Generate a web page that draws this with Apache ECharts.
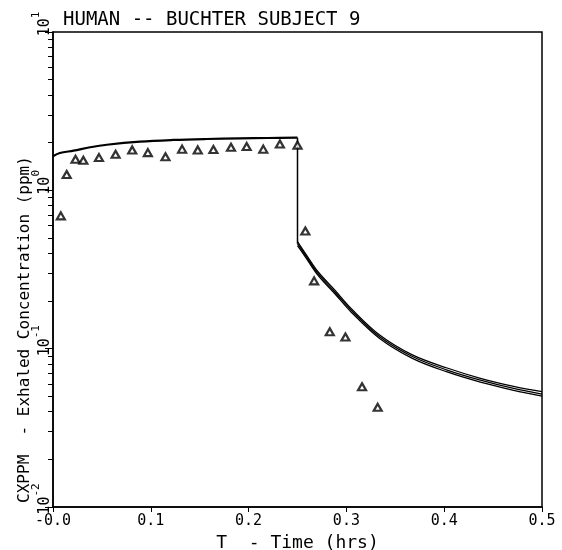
<!DOCTYPE html>
<html>
<head>
<meta charset="utf-8">
<script src="https://cdn.jsdelivr.net/npm/echarts@6/dist/echarts.min.js"></script>
<style>
  html, body { margin: 0; padding: 0; background: #fff; }
  #chart { width: 562px; height: 550px; }
</style>
</head>
<body>
<div id="chart"></div>
<script>
// Exhaled concentration (ppm) vs time (hrs): measured points and model curves
const titleText = 'HUMAN -- BUCHTER SUBJECT 9';
const xName = 'T  - Time (hrs)';
const yName = 'CXPPM  - Exhaled Concentration (ppm)';

const xTicks = [0, 0.1, 0.2, 0.3, 0.4, 0.5];
const yMajor = [0.01, 0.1, 1, 10];
const yMinor = [0.02, 0.03, 0.04, 0.05, 0.06, 0.07, 0.08, 0.09,
                0.2, 0.3, 0.4, 0.5, 0.6, 0.7, 0.8, 0.9,
                2, 3, 4, 5, 6, 7, 8, 9];

// measured exhaled concentrations
const obsTime = [0.008, 0.014, 0.023, 0.031, 0.047, 0.064, 0.081, 0.097, 0.115, 0.132,
                 0.148, 0.164, 0.182, 0.198, 0.215, 0.232, 0.250, 0.258, 0.267, 0.283,
                 0.299, 0.316, 0.332];
const obsConc = [0.69, 1.26, 1.57, 1.55, 1.61, 1.69, 1.80, 1.73, 1.63, 1.82,
                 1.80, 1.81, 1.87, 1.89, 1.82, 1.96, 1.93, 0.553, 0.268, 0.128,
                 0.1185, 0.0575, 0.0426];

// model: exposure phase (all curves coincide)
const expoTime = [0, 0.007, 0.021, 0.038, 0.055, 0.089, 0.123, 0.157, 0.191, 0.22, 0.25];
const expoConc = [1.64, 1.72, 1.78, 1.87, 1.94, 2.03, 2.08, 2.11, 2.13, 2.14, 2.15];

// end of exposure step
const stepTime = [0.25, 0.25];
const stepConc = [2.15, 0.46];

// model: post-exposure decay, three variants
const decayTime  = [0.25, 0.258, 0.271, 0.288, 0.305, 0.334, 0.368, 0.403, 0.437, 0.471, 0.50];
const decayHigh  = [0.475, 0.40, 0.306, 0.235, 0.179, 0.122, 0.091, 0.0755, 0.065, 0.0578, 0.0535];
const decayMid   = [0.46, 0.39, 0.298, 0.229, 0.175, 0.119, 0.0889, 0.0733, 0.0633, 0.0561, 0.0517];
const decayLow   = [0.448, 0.38, 0.29, 0.223, 0.17, 0.116, 0.0865, 0.0713, 0.0615, 0.0546, 0.0502];

const pairs = (xs, ys) => xs.map((x, i) => [x, ys[i]]);
const MONO = 'DejaVu Sans Mono';
const INK = '#000';

const chart = echarts.init(document.getElementById('chart'), null, { renderer: 'canvas' });

function modelLine(data, smooth, width) {
  return {
    type: 'line', data, symbol: 'none', smooth,
    lineStyle: { color: INK, width: width || 1.3 },
    silent: true, animation: false, z: 3
  };
}

chart.setOption({
  animation: false,
  backgroundColor: '#fff',
  title: {
    text: titleText, left: 58, top: 6,
    textStyle: { fontFamily: MONO, fontSize: 19, fontWeight: 'normal', color: INK }
  },
  grid: {
    left: 53, right: 20, top: 32, bottom: 43,
    outerBoundsMode: 'none', containLabel: false,
    show: true, borderColor: INK, borderWidth: 1.5, backgroundColor: 'transparent'
  },
  xAxis: [{
    type: 'value', min: 0, max: 0.5, interval: 0.1,
    name: xName, nameLocation: 'middle', nameGap: 27, nameMoveOverlap: false,
    nameTextStyle: { fontFamily: MONO, fontSize: 18, color: INK },
    axisLine: { show: true, lineStyle: { color: INK, width: 1.5 } },
    axisTick: { show: true, length: 5, lineStyle: { color: INK } },
    axisLabel: {
      fontFamily: MONO, fontSize: 15, color: INK, margin: 7,
      customValues: xTicks,
      formatter: v => (v === 0 ? '-0.0' : v.toFixed(1))
    },
    splitLine: { show: false }
  }],
  yAxis: [{
    type: 'log', logBase: 10, min: 0.01, max: 10, position: 'left',
    name: yName, nameLocation: 'middle', nameGap: 20, nameRotate: 90, nameMoveOverlap: false,
    nameTextStyle: { fontFamily: MONO, fontSize: 16, color: INK, padding: [0, 120, 0, 0] },
    axisLine: { show: true, lineStyle: { color: INK, width: 1.5 } },
    axisTick: { show: true, length: 8, customValues: yMajor, lineStyle: { color: INK } },
    axisLabel: {
      show: true, rotate: 90, margin: 0,
      customValues: yMajor,
      padding: [0, 0, 0, 16],
      formatter: v => '{b|10}{e|' + Math.round(Math.log10(v)) + '}',
      rich: {
        b: { fontFamily: MONO, fontSize: 15, color: INK, lineHeight: 22, verticalAlign: 'bottom' },
        e: { fontFamily: MONO, fontSize: 11, color: INK, lineHeight: 22, verticalAlign: 'top' }
      }
    },
    splitLine: { show: false }
  }, {
    // minor log ticks drawn along the left edge
    type: 'log', logBase: 10, min: 0.01, max: 10, position: 'right', offset: -489,
    axisLine: { show: false },
    axisTick: { show: true, inside: true, length: 5, customValues: yMinor, lineStyle: { color: INK } },
    axisLabel: { show: false },
    splitLine: { show: false }
  }],
  series: [
    modelLine(pairs(expoTime, expoConc), 0.35, 2.2),
    modelLine(pairs(stepTime, stepConc), false, 1.5),
    modelLine(pairs(decayTime, decayHigh), 0.35),
    modelLine(pairs(decayTime, decayMid), 0.35),
    modelLine(pairs(decayTime, decayLow), 0.35),
    {
      type: 'scatter', data: pairs(obsTime, obsConc),
      symbol: 'triangle', symbolSize: [8, 7],
      itemStyle: { color: '#fff', borderColor: INK, borderWidth: 2.2 },
      z: 5
    }
  ]
});
</script>
</body>
</html>
